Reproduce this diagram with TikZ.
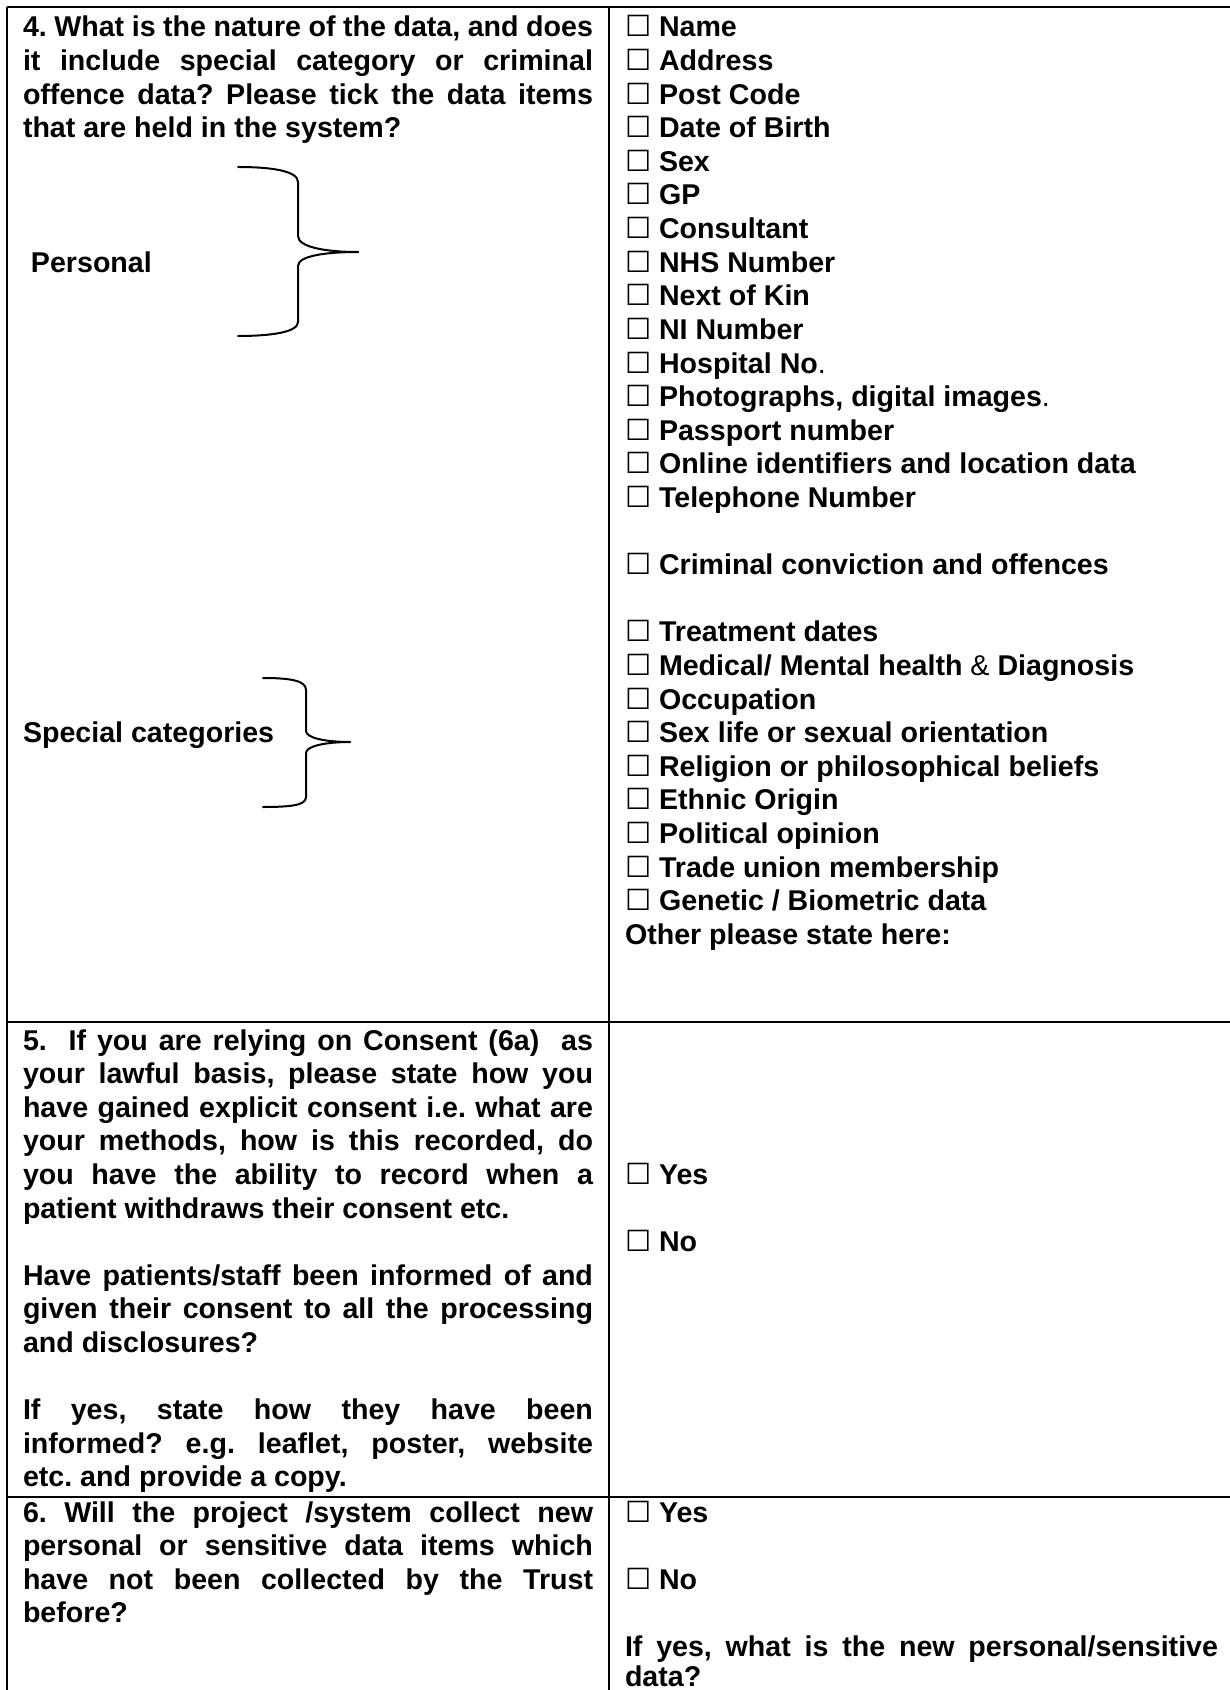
\documentclass[tikz,border=0pt]{standalone}
\usepackage{fontspec}
\setmainfont{Liberation Sans}
\newfontfamily\symfont{DejaVu Sans}
\newcommand\cb{\makebox[17pt][l]{\mdseries\symfont\fontsize{14.6pt}{16.8pt}\selectfont ☐}}
\newcommand\jl[1]{\makebox[285pt][s]{#1}}
\newcommand\jr[1]{\makebox[296.5pt][s]{#1}}
\newcommand\md[1]{{\mdseries #1}}
\frenchspacing
\begin{document}
\begin{tikzpicture}[x=0.5pt,y=-0.5pt,
  txt/.style={anchor=base west,inner sep=0pt,outer sep=0pt,
    font=\fontsize{14.3pt}{16.8pt}\selectfont\bfseries\frenchspacing},
  hrule/.style={line width=1pt},
  vrule/.style={line width=0.6pt},
  bracepath/.style={line width=1pt,line cap=round}]
\fill[white] (0,0) rectangle (1230,1690);
\clip (0,0) rectangle (1230,1690);
% ---- table rules
\draw[hrule] (7,7) -- (1230,7);
\draw[hrule] (7,1022) -- (1230,1022);
\draw[hrule] (7,1497) -- (1230,1497);
\draw[vrule] (7,7) -- (7,1690);
\draw[vrule] (609,7) -- (609,1690);
% ---- row 4, left
\node[txt] (q4a) at (23,37) {\jl{4. What is the nature of the data, and does}};
\node[txt] (q4b) at (23,70.6) {\jl{it include special category or criminal}};
\node[txt] (q4c) at (23,104.2) {\jl{offence data? Please tick the data items}};
\node[txt] (q4d) at (23,137.8) {that are held in the system?};
\node[txt] (pers) at (31,272.2) {Personal};
\node[txt] (spec) at (23,742.6) {Special categories};
% braces
\draw[bracepath] (238,167) .. controls (272,167) and (298,171) .. (298,182) -- (298,236)
  .. controls (298,247) and (325,252) .. (358,252);
\draw[bracepath] (358,252) .. controls (325,252) and (298,256) .. (298,266) -- (298,322)
  .. controls (298,332) and (272,336) .. (238,336);
\draw[bracepath] (263,678) .. controls (292,678) and (306,681) .. (306,690) -- (306,731)
  .. controls (306,738) and (326,742) .. (350,742);
\draw[bracepath] (350,742) .. controls (326,742) and (306,746) .. (306,753) -- (306,797)
  .. controls (306,805) and (292,807) .. (263,807);
% ---- row 4, right
\node[txt] (i00) at (625,37)    {\cb Name};
\node[txt] (i01) at (625,70.6)  {\cb Address};
\node[txt] (i02) at (625,104.2) {\cb Post Code};
\node[txt] (i03) at (625,137.8) {\cb Date of Birth};
\node[txt] (i04) at (625,171.4) {\cb Sex};
\node[txt] (i05) at (625,205)   {\cb GP};
\node[txt] (i06) at (625,238.6) {\cb Consultant};
\node[txt] (i07) at (625,272.2) {\cb NHS Number};
\node[txt] (i08) at (625,305.8) {\cb Next of Kin};
\node[txt] (i09) at (625,339.4) {\cb NI Number};
\node[txt] (i10) at (625,373)   {\cb Hospital No\md{.}};
\node[txt] (i11) at (625,406.6) {\cb Photographs, digital images\md{.}};
\node[txt] (i12) at (625,440.2) {\cb Passport number};
\node[txt] (i13) at (625,473.8) {\cb Online identifiers and location data};
\node[txt] (i14) at (625,507.4) {\cb Telephone Number};
\node[txt] (i16) at (625,574.6) {\cb Criminal conviction and offences};
\node[txt] (i18) at (625,641.8) {\cb Treatment dates};
\node[txt] (i19) at (625,675.4) {\cb Medical/ Mental health \md{\&} Diagnosis};
\node[txt] (i20) at (625,709)   {\cb Occupation};
\node[txt] (i21) at (625,742.6) {\cb Sex life or sexual orientation};
\node[txt] (i22) at (625,776.2) {\cb Religion or philosophical beliefs};
\node[txt] (i23) at (625,809.8) {\cb Ethnic Origin};
\node[txt] (i24) at (625,843.4) {\cb Political opinion};
\node[txt] (i25) at (625,877)   {\cb Trade union membership};
\node[txt] (i26) at (625,910.6) {\cb Genetic / Biometric data};
\node[txt] (i27) at (625,944.2) {Other please state here:};
% ---- row 5, left
\node[txt] (q5a) at (23,1050)   {\jl{5.~~If you are relying on Consent (6a)~~as}};
\node[txt] (q5b) at (23,1083.6) {\jl{your lawful basis, please state how you}};
\node[txt] (q5c) at (23,1117.2) {\jl{have gained explicit consent i.e. what are}};
\node[txt] (q5d) at (23,1150.8) {\jl{your methods, how is this recorded, do}};
\node[txt] (q5e) at (23,1184.4) {\jl{you have the ability to record when a}};
\node[txt] (q5f) at (23,1218)   {patient withdraws their consent etc.};
\node[txt] (q5g) at (23,1285.2) {\jl{Have patients/staff been informed of and}};
\node[txt] (q5h) at (23,1318.8) {\jl{given their consent to all the processing}};
\node[txt] (q5i) at (23,1352.4) {and disclosures?};
\node[txt] (q5j) at (23,1419.6) {\jl{If yes, state how they have been}};
\node[txt] (q5k) at (23,1453.2) {\jl{informed? e.g. leaflet, poster, website}};
\node[txt] (q5l) at (23,1486.8) {etc. and provide a copy.};
% ---- row 5, right
\node[txt] (a5y) at (625,1184.4) {\cb Yes};
\node[txt] (a5n) at (625,1251.6) {\cb No};
% ---- row 6, left
\node[txt] (q6a) at (23,1522)   {\jl{6. Will the project /system collect new}};
\node[txt] (q6b) at (23,1555.6) {\jl{personal or sensitive data items which}};
\node[txt] (q6c) at (23,1589.2) {\jl{have not been collected by the Trust}};
\node[txt] (q6d) at (23,1622.8) {before?};
% ---- row 6, right
\node[txt] (a6y) at (625,1522)   {\cb Yes};
\node[txt] (a6n) at (625,1589.2) {\cb No};
\node[txt] (a6q) at (625,1656.4) {\jr{If yes, what is the new personal/sensitive}};
\node[txt] (a6r) at (625,1686)   {data?};
\end{tikzpicture}
\end{document}
